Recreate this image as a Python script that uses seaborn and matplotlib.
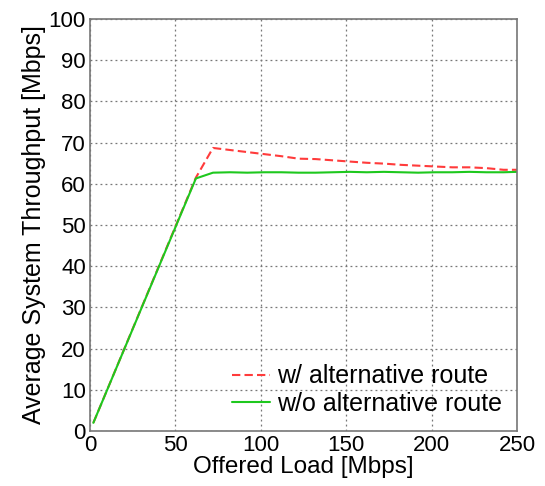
import pandas as pd
import seaborn as sns
import matplotlib.pyplot as plt

# Data
load_w = [2, 62, 72, 82, 92, 102, 112, 122, 132, 142, 152, 162, 172, 182, 192, 202, 212, 222, 232, 242, 250]
thr_w = [2.0, 61.5, 68.7, 68.2, 67.7, 67.2, 66.7, 66.1, 66.0, 65.7, 65.4, 65.1, 64.9, 64.6, 64.4, 64.2, 64.0, 64.0, 63.8, 63.4, 63.4]
load_wo = [2, 62, 72, 82, 92, 102, 112, 122, 132, 142, 152, 162, 172, 182, 192, 202, 212, 222, 232, 242, 250]
thr_wo = [2.0, 61.3, 62.7, 62.8, 62.7, 62.8, 62.8, 62.7, 62.7, 62.8, 62.9, 62.8, 62.9, 62.8, 62.7, 62.8, 62.8, 62.9, 62.8, 62.8, 62.9]

LABEL_W = "w/ alternative route"
LABEL_WO = "w/o alternative route"


def main():
    sns.set_style("white")
    plt.rcParams['font.family'] = ['Liberation Sans', 'DejaVu Sans']
    plt.rcParams['text.color'] = 'black'
    plt.rcParams['axes.labelcolor'] = 'black'
    plt.rcParams['xtick.color'] = 'black'
    plt.rcParams['ytick.color'] = 'black'

    df = pd.concat([
        pd.DataFrame({'Load': load_w, 'Throughput': thr_w, 'Route': LABEL_W}),
        pd.DataFrame({'Load': load_wo, 'Throughput': thr_wo, 'Route': LABEL_WO}),
    ])

    fig = plt.figure(figsize=(5.45, 4.86), dpi=100)
    ax = fig.add_axes([0.165, 0.113, 0.784, 0.848])

    sns.lineplot(data=df, x='Load', y='Throughput', hue='Route', style='Route',
                 palette={LABEL_W: '#ff3b3b', LABEL_WO: '#1ec81e'},
                 dashes={LABEL_W: (4, 2), LABEL_WO: ''},
                 linewidth=1.5, ax=ax)

    ax.set_xlim(0, 250)
    ax.set_ylim(0, 100)
    ax.set_xticks(range(0, 251, 50))
    ax.set_yticks(range(0, 101, 10))
    ax.grid(True, linestyle=(0, (1.5, 2.5)), color='#777777', linewidth=0.9)
    ax.tick_params(axis='both', labelsize=16, direction='in', length=4,
                   color='#777777', labelcolor='black', pad=3)
    for sp in ax.spines.values():
        sp.set_color('#777777')
        sp.set_linewidth(1.2)

    ax.set_xlabel("Offered Load [Mbps]", fontsize=17.5, labelpad=0)
    ax.set_ylabel("Average System Throughput [Mbps]", fontsize=18, labelpad=2)

    ax.legend(loc='lower right', frameon=False, fontsize=18, handlelength=1.5,
              handletextpad=0.3, borderaxespad=0.2, labelspacing=0.15)

    fig.savefig("out.png", dpi=100)


if __name__ == "__main__":
    main()
